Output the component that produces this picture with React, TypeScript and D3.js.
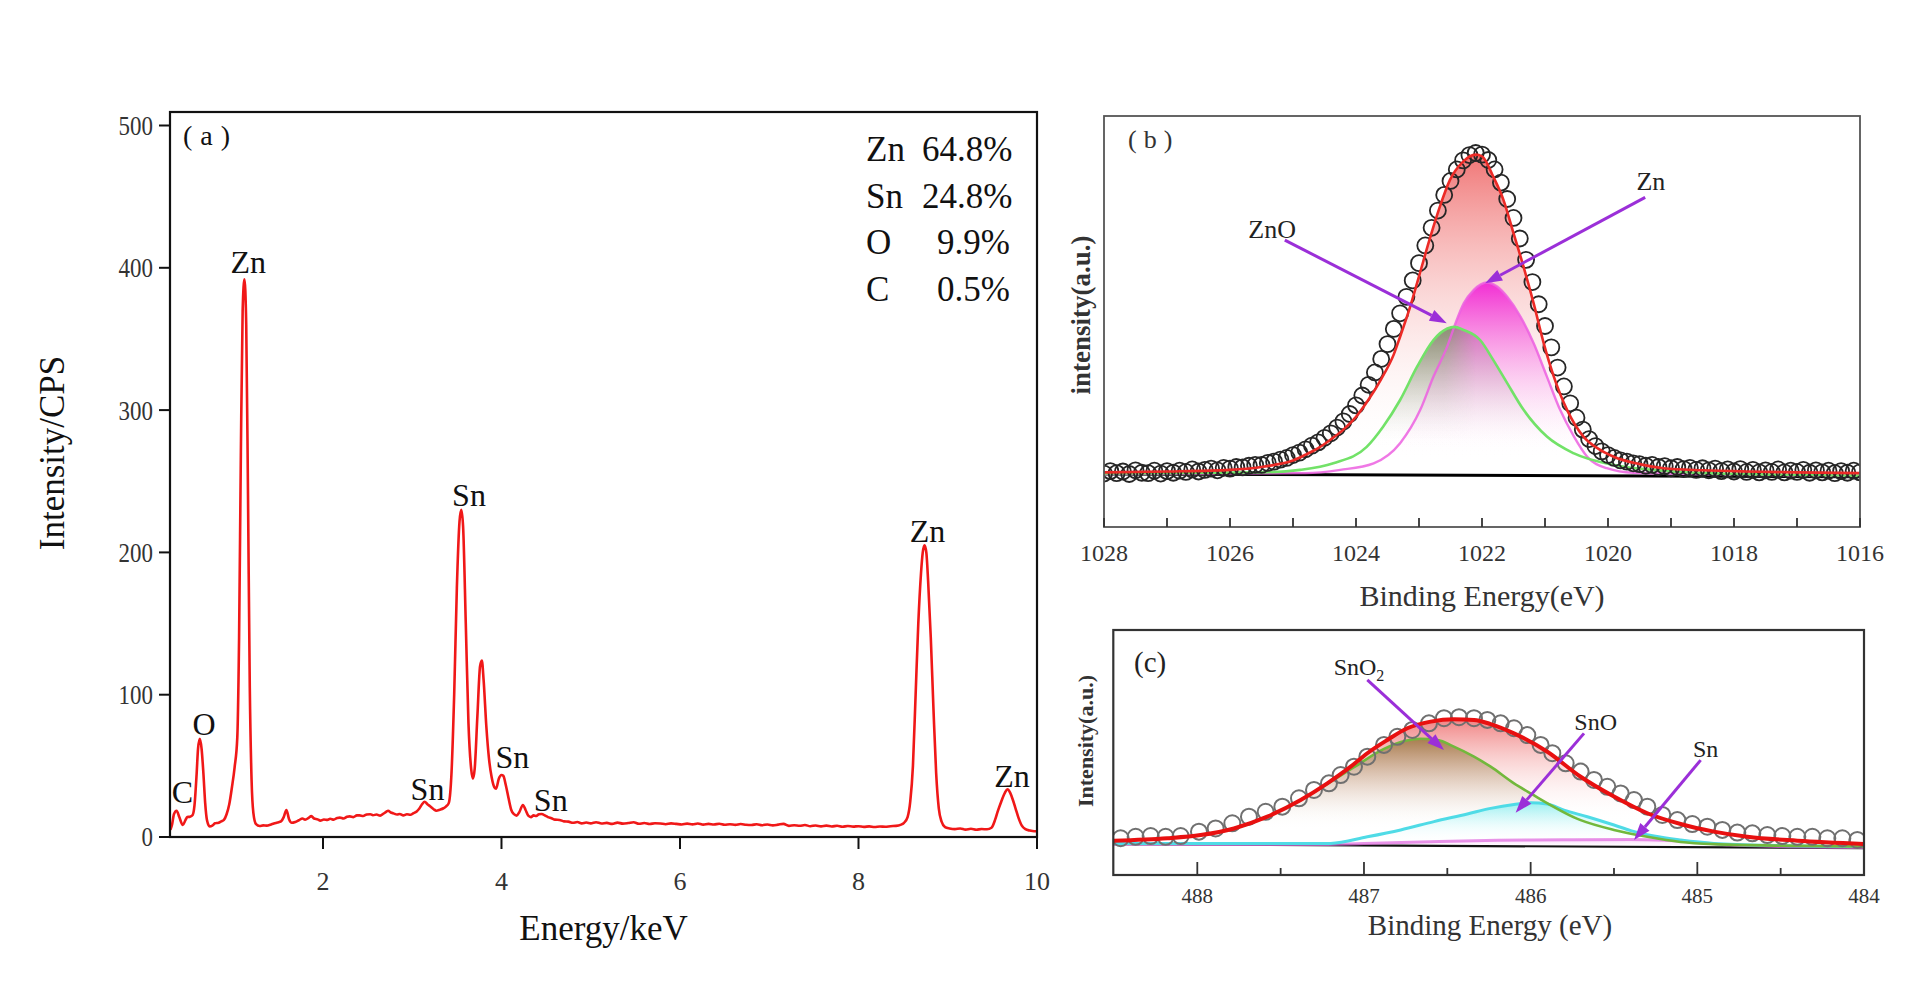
import React from "react";
import * as d3 from "d3";

const SERIF = '"Liberation Serif", "Times New Roman", serif';

// ---------------- Panel (a): EDS spectrum ----------------
const edsEnergy = [
  0.29, 0.31, 0.33, 0.36, 0.39, 0.43, 0.46, 0.48, 0.51, 0.54, 0.56, 0.585, 0.6, 0.62, 0.64, 0.66, 0.68, 0.7, 0.73, 0.76,
  0.79, 0.83, 0.86, 0.89, 0.92, 0.95, 0.98, 1.01, 1.04, 1.06, 1.08, 1.1, 1.12, 1.14, 1.16, 1.18, 1.2, 1.22, 1.25, 1.29,
  1.33, 1.37, 1.41, 1.45, 1.49, 1.53, 1.56, 1.59, 1.62, 1.65, 1.69, 1.73, 1.77, 1.8, 1.84, 1.87, 1.9, 1.94, 1.97, 2.01,
  2.05, 2.08, 2.12, 2.16, 2.19, 2.23, 2.27, 2.3, 2.34, 2.38, 2.41, 2.45, 2.49, 2.53, 2.56, 2.6, 2.64, 2.68, 2.71, 2.73,
  2.76, 2.79, 2.83, 2.86, 2.9, 2.94, 2.98, 3.01, 3.05, 3.08, 3.11, 3.14, 3.17, 3.2, 3.24, 3.27, 3.31, 3.35, 3.38, 3.41,
  3.44, 3.47, 3.5, 3.53, 3.55, 3.57, 3.6, 3.63, 3.66, 3.68, 3.7, 3.73, 3.76, 3.78, 3.8, 3.83, 3.86, 3.89, 3.92, 3.94,
  3.97, 4.0, 4.02, 4.05, 4.08, 4.11, 4.14, 4.17, 4.2, 4.24, 4.27, 4.3, 4.33, 4.36, 4.39, 4.42, 4.45, 4.49, 4.52, 4.56,
  4.6, 4.65, 4.7, 4.75, 4.8, 4.85, 4.9, 4.95, 5.0, 5.06, 5.12, 5.18, 5.24, 5.3, 5.36, 5.42, 5.48, 5.54, 5.6, 5.66,
  5.72, 5.78, 5.84, 5.9, 5.96, 6.02, 6.08, 6.14, 6.2, 6.26, 6.32, 6.38, 6.44, 6.5, 6.56, 6.62, 6.68, 6.74, 6.8, 6.86,
  6.92, 6.98, 7.04, 7.1, 7.16, 7.22, 7.28, 7.34, 7.4, 7.46, 7.52, 7.58, 7.64, 7.7, 7.76, 7.82, 7.88, 7.94, 8.0, 8.06,
  8.12, 8.18, 8.24, 8.3, 8.36, 8.42, 8.47, 8.51, 8.55, 8.58, 8.61, 8.64, 8.67, 8.7, 8.72, 8.74, 8.76, 8.78, 8.81, 8.84,
  8.87, 8.9, 8.93, 8.97, 9.02, 9.08, 9.14, 9.2, 9.26, 9.32, 9.38, 9.44, 9.49, 9.53, 9.56, 9.6, 9.64, 9.67, 9.7, 9.73,
  9.76, 9.79, 9.83, 9.87, 9.92, 9.97, 10.0,
];
const edsCounts = [
  5, 9, 16, 18.5, 14, 8.4, 12, 14, 14.3, 15.5, 22, 45, 62, 69, 62, 45, 24, 12, 7.5, 8,
  9.6, 10, 11, 12, 16, 23, 35, 49, 70, 140, 270, 370, 392, 360, 240, 105, 40, 17, 9, 7.7,
  8.2, 8.0, 8.6, 9.5, 10.2, 11, 14, 19, 12.5, 10, 10.6, 11.8, 13, 12.2, 13.5, 14.7, 13, 12.4, 11.5, 12.3,
  12, 12.8, 12.2, 13.4, 13.6, 13, 14.2, 14.5, 14, 15.2, 15.2, 14.8, 15.8, 16, 15.3, 15.8, 15, 16.5, 17.8, 18.5,
  17.2, 16.6, 15.8, 16.2, 15.2, 16, 15.6, 16.6, 18, 20, 23, 24.8, 23, 21.6, 19.5, 18.5, 19.2, 20.2, 21.5, 24,
  45, 100, 175, 222, 230, 218, 150, 80, 48, 41, 48, 85, 120, 124, 110, 78, 55, 42, 35, 34,
  41, 43.6, 43, 36, 27, 19, 16, 15, 17.5, 22.5, 19, 15, 14, 15.2, 14.8, 16, 16.2, 15, 14, 13.2,
  12.2, 12, 11, 10.8, 10, 10.5, 9.6, 10.2, 9.6, 10.4, 9.5, 9.9, 9.2, 10.1, 9.4, 9.8, 10.4, 9.3, 9.8, 9.1,
  9.7, 9.5, 9.0, 9.6, 9.2, 8.8, 9.4, 8.9, 9.5, 8.7, 9.2, 8.8, 9.3, 8.6, 9.0, 8.5, 9.1, 8.6, 8.4, 9.0,
  8.3, 8.8, 8.2, 8.7, 9.2, 7.8, 8.3, 7.9, 8.4, 7.6, 8.1, 7.5, 8.0, 7.4, 7.9, 7.2, 7.7, 7.3, 7.6, 7.1,
  7.5, 7.0, 7.4, 7.2, 7.6, 7.8, 8.5, 10, 14, 25, 50, 100, 150, 185, 200, 205, 200, 180, 140, 90,
  45, 20, 11, 7, 6, 5.5, 6, 5.2, 5.8, 5.1, 5.6, 5.4, 6.5, 12, 18, 25, 31, 33.6, 31, 26,
  20, 14, 8, 5.5, 4.5, 4, 4,
];
const edsYTicks = [0, 100, 200, 300, 400, 500];
const edsXTicks = [2, 4, 6, 8, 10];
const edsPeakNames = ["C", "O", "Zn", "Sn", "Sn", "Sn", "Sn", "Zn", "Zn"];
const edsPeakNameE = [0.426, 0.667, 1.163, 3.636, 3.171, 4.123, 4.552, 8.773, 9.72];
const edsPeakNameI = [23.7, 71.7, 396.6, 232.8, 26, 48.3, 18.5, 207.3, 35.4];
const compElements = ["Zn", "Sn", "O", "C"];
const compPercent = ["64.8%", "24.8%", "9.9%", "0.5%"];

// ---------------- Panel (b): Zn 2p XPS ----------------
const bTicks = [1028, 1027, 1026, 1025, 1024, 1023, 1022, 1021, 1020, 1019, 1018, 1017, 1016];
const bTickLabels = [1028, 1026, 1024, 1022, 1020, 1018, 1016];
const bDataE = [
  1028.0, 1027.9, 1027.8, 1027.7, 1027.6, 1027.5, 1027.4, 1027.3, 1027.2, 1027.1, 1027.0, 1026.9, 1026.8, 1026.7, 1026.6,
  1026.5, 1026.4, 1026.3, 1026.2, 1026.1, 1026.0, 1025.9, 1025.8, 1025.7, 1025.6, 1025.5, 1025.4, 1025.3, 1025.2, 1025.1,
  1025.0, 1024.9, 1024.8, 1024.7, 1024.6, 1024.5, 1024.4, 1024.3, 1024.2, 1024.1, 1024.0, 1023.9, 1023.8, 1023.7, 1023.6,
  1023.5, 1023.4, 1023.3, 1023.2, 1023.1, 1023.0, 1022.9, 1022.8, 1022.7, 1022.6, 1022.5, 1022.4, 1022.3, 1022.2, 1022.1,
  1022.0, 1021.9, 1021.8, 1021.7, 1021.6, 1021.5, 1021.4, 1021.3, 1021.2, 1021.1, 1021.0, 1020.9, 1020.8, 1020.7, 1020.6,
  1020.5, 1020.4, 1020.3, 1020.2, 1020.1, 1020.0, 1019.9, 1019.8, 1019.7, 1019.6, 1019.5, 1019.4, 1019.3, 1019.2, 1019.1,
  1019.0, 1018.9, 1018.8, 1018.7, 1018.6, 1018.5, 1018.4, 1018.3, 1018.2, 1018.1, 1018.0, 1017.9, 1017.8, 1017.7, 1017.6,
  1017.5, 1017.4, 1017.3, 1017.2, 1017.1, 1017.0, 1016.9, 1016.8, 1016.7, 1016.6, 1016.5, 1016.4, 1016.3, 1016.2, 1016.1,
  1016.0,
];
const bDataI = [
  13.0, 13.6, 13.1, 13.5, 12.9, 13.8, 13.2, 13.1, 13.7, 13.0, 13.6, 13.2, 13.7, 13.4, 14.0,
  13.5, 13.9, 14.2, 13.8, 14.4, 14.2, 14.6, 14.5, 14.9, 15.1, 15.1, 15.6, 15.9, 16.4, 16.8,
  17.5, 18.1, 18.9, 19.8, 20.6, 21.7, 22.8, 24.2, 25.7, 27.5, 29.6, 32.0, 34.6, 37.6, 40.9,
  44.5, 48.2, 52.0, 56.0, 60.0, 64.2, 68.5, 72.8, 77.0, 80.8, 84.2, 87.0, 89.2, 90.5, 91.0,
  90.6, 89.3, 87.0, 83.8, 79.8, 75.2, 70.2, 65.0, 59.6, 54.2, 48.9, 43.7, 38.8, 34.2, 30.1,
  26.6, 23.7, 21.4, 19.7, 18.4, 17.5, 16.8, 16.2, 15.9, 15.5, 15.3, 14.9, 15.1, 14.6, 14.8,
  14.3, 14.6, 14.1, 14.4, 13.9, 14.3, 13.8, 14.2, 13.6, 14.0, 13.5, 14.1, 13.4, 13.9, 13.3,
  13.8, 13.4, 14.0, 13.3, 13.7, 13.4, 13.9, 13.2, 13.8, 13.3, 13.7, 13.1, 13.6, 13.2, 13.7,
  13.3,
];
const bEnvE = [1028, 1027, 1026, 1025.5, 1025.3, 1025.0, 1024.8, 1024.6, 1024.4, 1024.2, 1024.0, 1023.8, 1023.6, 1023.4, 1023.3, 1023.14, 1023.0, 1022.82, 1022.67, 1022.51, 1022.3, 1022.1, 1022.0, 1021.82, 1021.66, 1021.5, 1021.34, 1021.18, 1021.02, 1020.86, 1020.65, 1020.39, 1020.15, 1019.91, 1019.5, 1019.12, 1018.5, 1017.8, 1017.0, 1016.0];
const bEnvI = [13.3, 13.5, 13.9, 14.6, 15.1, 16.2, 17.6, 19.2, 21.3, 23.7, 26.8, 31.0, 36.0, 42.0, 46.3, 53.6, 61.0, 70.6, 77.9, 84.4, 88.9, 90.6, 90.2, 85.2, 79.6, 71.5, 63.3, 54.4, 44.7, 36.6, 28.5, 22.0, 19.0, 17.1, 15.3, 14.3, 13.8, 13.5, 13.3, 13.1];
const bZnOE = [1028, 1025.5, 1024.89, 1024.36, 1023.83, 1023.57, 1023.3, 1023.03, 1022.77, 1022.55, 1022.44, 1022.3, 1022.03, 1021.82, 1021.6, 1021.34, 1020.97, 1020.54, 1019.91, 1019.28, 1018.5, 1016];
const bZnOI = [13.0, 13.3, 13.9, 15.5, 19.5, 24.4, 30.9, 39.0, 45.5, 48.3, 48.7, 48.0, 45.5, 40.6, 35.0, 28.5, 22.0, 17.9, 15.1, 13.9, 13.1, 12.5];
const bZnE = [1028, 1024.8, 1024.25, 1023.72, 1023.3, 1022.98, 1022.77, 1022.55, 1022.42, 1022.29, 1022.13, 1021.92, 1021.76, 1021.6, 1021.39, 1021.18, 1020.97, 1020.76, 1020.54, 1020.33, 1020.02, 1019.6, 1016];
const bZnI = [12.9, 13.1, 13.9, 15.5, 20.4, 28.5, 36.6, 44.0, 49.6, 54.4, 57.7, 59.5, 58.5, 56.0, 51.2, 44.7, 36.6, 28.5, 22.0, 17.1, 14.3, 13.2, 12.4];
const bBaseE = [1028, 1016];
const bBaseI = [12.9, 12.2];
const bNotes = ["ZnO", "Zn"];
const bNoteE = [1025.33, 1019.32];
const bNoteI = [70.3, 82];
const bArrowFromE = [1025.13, 1019.41];
const bArrowFromI = [69.8, 80.2];
const bArrowToE = [1022.56, 1021.95];
const bArrowToI = [49.6, 59.3];

// ---------------- Panel (c): Sn 3d XPS ----------------
const cTicks = [488, 487.5, 487, 486.5, 486, 485.5, 485, 484.5, 484];
const cTickLabels = [488, 487, 486, 485, 484];
const cDataE = [
  488.46, 488.37, 488.28, 488.19, 488.1, 487.99, 487.89, 487.79, 487.69, 487.59, 487.49, 487.39, 487.3, 487.21, 487.14,
  487.06, 486.98, 486.88, 486.8, 486.71, 486.61, 486.52, 486.43, 486.34, 486.26, 486.18, 486.1, 486.02, 485.94, 485.87,
  485.79, 485.7, 485.62, 485.54, 485.46, 485.38, 485.3, 485.21, 485.12, 485.03, 484.94, 484.85, 484.76, 484.67, 484.58,
  484.49, 484.4, 484.31, 484.22, 484.13, 484.04,
];
const cDataI = [
  15.0, 15.6, 15.9, 15.6, 15.9, 17.7, 19.0, 21.1, 23.8, 25.8, 27.9, 31.3, 34.7, 37.4, 40.8,
  44.2, 48.3, 53.1, 56.4, 59.2, 61.9, 64.0, 64.4, 64.0, 63.3, 61.9, 59.9, 57.1, 53.1, 49.7,
  45.6, 42.2, 38.8, 36.0, 33.3, 30.6, 27.9, 24.5, 22.4, 20.8, 19.7, 18.4, 17.3, 17.0, 16.3,
  15.9, 15.6, 15.6, 15.0, 15.0, 14.3,
];
const cEnvE = [488.5, 488.18, 487.98, 487.78, 487.58, 487.38, 487.22, 487.08, 486.98, 486.86, 486.74, 486.6, 486.46, 486.34, 486.24, 486.1, 485.9, 485.7, 485.5, 485.3, 485.1, 484.9, 484.7, 484.4, 484.0];
const cEnvI = [14.0, 15.0, 16.3, 19.0, 23.8, 30.6, 37.4, 44.2, 49.7, 55.1, 59.9, 62.6, 63.6, 63.3, 61.6, 57.8, 50.3, 40.1, 32.0, 25.2, 20.8, 17.7, 15.6, 14.0, 12.7];
const cSnO2E = [488.5, 488.18, 487.98, 487.78, 487.58, 487.38, 487.22, 487.06, 486.88, 486.75, 486.66, 486.55, 486.48, 486.34, 486.24, 486.1, 486.0, 485.7, 485.5, 485.3, 485.1, 484.9, 484.5, 484.0];
const cSnO2I = [14.0, 15.0, 16.3, 19.0, 23.8, 30.6, 37.2, 44.0, 51.5, 54.8, 55.6, 55.0, 53.0, 48.3, 44.2, 37.4, 33.3, 22.4, 18.4, 15.6, 13.5, 12.6, 12.0, 11.6];
const cSnOE = [488.5, 487.2, 486.98, 486.78, 486.58, 486.38, 486.24, 486.1, 486.0, 485.9, 485.8, 485.66, 485.5, 485.4, 485.26, 485.1, 484.9, 484.5, 484.0];
const cSnOI = [12.9, 12.9, 15.6, 18.4, 21.8, 24.9, 27.2, 28.8, 29.5, 29.0, 26.5, 23.8, 20.4, 18.1, 15.9, 14.3, 12.9, 12.0, 11.6];
const cSnE = [488.5, 487.3, 487.0, 486.6, 486.2, 485.8, 485.4, 485.2, 485.0, 484.8, 484.5, 484.0];
const cSnI = [12.6, 12.4, 12.9, 13.6, 14.2, 14.4, 14.5, 14.2, 13.3, 12.3, 11.6, 11.2];
const cBaseE = [488.5, 484.0];
const cBaseI = [12.6, 11.0];
const cNotes = ["SnO", "SnO", "Sn"];
const cNoteSub = ["2", "", ""];
const cNoteE = [487.03, 485.61, 484.95];
const cNoteI = [81.6, 59.2, 48.3];
const cArrowFromE = [486.98, 485.68, 484.98];
const cArrowFromI = [79.6, 57.8, 46.9];
const cArrowToE = [486.52, 486.09, 485.38];
const cArrowToI = [51, 25.4, 14.3];

const ARROW = "#9b2fd8";

type P = [number, number];

function Arrow({ x1, y1, x2, y2 }: { x1: number; y1: number; x2: number; y2: number }) {
  const ang = Math.atan2(y2 - y1, x2 - x1);
  const len = 17;
  const hw = 6;
  const bx = x2 - len * Math.cos(ang);
  const by = y2 - len * Math.sin(ang);
  const px = -Math.sin(ang) * hw;
  const py = Math.cos(ang) * hw;
  return (
    <g>
      <line x1={x1} y1={y1} x2={bx} y2={by} stroke={ARROW} strokeWidth={3} />
      <path d={`M${x2},${y2}L${bx + px},${by + py}L${bx - px},${by - py}Z`} fill={ARROW} />
    </g>
  );
}

function Grad({ id, y1, y2, color, op }: { id: string; y1: number; y2: number; color: string; op: number }) {
  return (
    <linearGradient id={id} gradientUnits="userSpaceOnUse" x1={0} x2={0} y1={y1} y2={y2}>
      <stop offset="0%" stopColor={color} stopOpacity={op} />
      <stop offset="100%" stopColor="#ffffff" stopOpacity={0} />
    </linearGradient>
  );
}

function PanelLabel({ x, y, letter, size, fill, gap }: { x: number; y: number; letter: string; size: number; fill: string; gap: number }) {
  return (
    <text x={x} y={y} fontSize={size} fill={fill} fontFamily={SERIF}>
      (<tspan dx={gap}>{letter}</tspan><tspan dx={gap}>)</tspan>
    </text>
  );
}

function PanelA() {
  const x = d3.scaleLinear().domain([0.286, 10]).range([170, 1037]);
  const y = d3.scaleLinear().domain([0, 500]).range([837, 125.5]);
  const pts = d3.zip(edsEnergy, edsCounts) as P[];
  const line = d3.line<P>().x((d) => x(d[0])).y((d) => y(d[1])).curve(d3.curveMonotoneX);
  return (
    <g fontFamily={SERIF} fill="#111">
      <path d={line(pts) || ""} fill="none" stroke="#f01818" strokeWidth={2.6} strokeLinejoin="round" />
      <rect x={170} y={112} width={867} height={725} fill="none" stroke="#111" strokeWidth={2.2} />
      {edsYTicks.map((t) => (
        <g key={"y" + t}>
          <line x1={159} x2={170} y1={y(t)} y2={y(t)} stroke="#111" strokeWidth={2} />
          <text transform={`translate(153,${y(t)}) scale(0.85,1)`} dy="0.35em" textAnchor="end" fontSize={27} fill="#333">{t}</text>
        </g>
      ))}
      {edsXTicks.map((t) => (
        <g key={"x" + t}>
          <line x1={x(t)} x2={x(t)} y1={837} y2={849} stroke="#111" strokeWidth={2} />
          <text x={x(t)} y={890} textAnchor="middle" fontSize={26} fill="#333">{t}</text>
        </g>
      ))}
      <text x={603.5} y={940} textAnchor="middle" fontSize={35}>Energy/keV</text>
      <text transform="translate(64,453) rotate(-90)" textAnchor="middle" fontSize={35}>Intensity/CPS</text>
      <PanelLabel x={183} y={145} letter="a" size={28} fill="#111" gap={8} />
      {edsPeakNames.map((n, i) => (
        <text key={"p" + i} x={x(edsPeakNameE[i])} y={y(edsPeakNameI[i])} textAnchor="middle" fontSize={32}>{n}</text>
      ))}
      {compElements.map((el, i) => (
        <g key={"c" + i} fontSize={35}>
          <text x={866} y={161 + i * 46.5}>{el}</text>
          <text x={compPercent[i].length > 4 ? 922 : 937} y={161 + i * 46.5}>{compPercent[i]}</text>
        </g>
      ))}
    </g>
  );
}

function PanelB() {
  const x = d3.scaleLinear().domain([1028, 1016]).range([1104, 1860]);
  const y = d3.scaleLinear().domain([0, 100]).range([527, 116]);
  const base = d3.scaleLinear().domain(bBaseE).range(bBaseI);
  const line = d3.line<P>().x((d) => x(d[0])).y((d) => y(d[1])).curve(d3.curveMonotoneX);
  const area = d3.area<P>().x((d) => x(d[0])).y0((d) => y(base(d[0]))).y1((d) => y(d[1])).curve(d3.curveMonotoneX);
  const env = d3.zip(bEnvE, bEnvI) as P[];
  const zno = d3.zip(bZnOE, bZnOI) as P[];
  const zn = d3.zip(bZnE, bZnI) as P[];
  const data = d3.zip(bDataE, bDataI) as P[];
  const baseLine = d3.zip(bBaseE, bBaseI) as P[];
  return (
    <g fontFamily={SERIF} fill="#111">
      <defs>
        <clipPath id="clipB"><rect x={1104} y={116} width={756} height={411} /></clipPath>
        <linearGradient id="gMaskB" gradientUnits="userSpaceOnUse" x1={x(1022.6)} x2={x(1022.1)} y1={0} y2={0}>
          <stop offset="0%" stopColor="#fff" />
          <stop offset="100%" stopColor="#000" />
        </linearGradient>
        <mask id="maskBLeft" maskUnits="userSpaceOnUse" x={1104} y={116} width={756} height={411}>
          <rect x={1104} y={116} width={756} height={411} fill="url(#gMaskB)" />
        </mask>
        <Grad id="gEnvB" y1={y(92)} y2={y(17)} color="#ee6464" op={0.92} />
        <Grad id="gZnOB" y1={y(49)} y2={y(20)} color="#8c8c74" op={1} />
        <Grad id="gZnB" y1={y(60)} y2={y(16)} color="#f22ad4" op={1} />
      </defs>
      <g clipPath="url(#clipB)">
        <path d={area(env) || ""} fill="url(#gEnvB)" />
        <path d={area(zno) || ""} fill="url(#gZnOB)" />
        <path d={area(zn) || ""} fill="url(#gZnB)" />
        <g mask="url(#maskBLeft)">
          <path d={area(zno) || ""} fill="url(#gZnOB)" />
        </g>
        <path d={line(baseLine) || ""} fill="none" stroke="#000" strokeWidth={3} />
        <path d={line(zn) || ""} fill="none" stroke="#ec60e0" strokeWidth={2.4} opacity={0.85} />
        <path d={line(zno) || ""} fill="none" stroke="#72e268" strokeWidth={2.6} />
        {data.map((d, i) => (
          <circle key={i} cx={x(d[0])} cy={y(d[1])} r={8} fill="none" stroke="#262626" strokeWidth={1.8} />
        ))}
        <path d={line(env) || ""} fill="none" stroke="#ec2a26" strokeWidth={2.6} />
      </g>
      <rect x={1104} y={116} width={756} height={411} fill="none" stroke="#555" strokeWidth={1.8} />
      {bTicks.map((t) => (
        <line key={"t" + t} x1={x(t)} x2={x(t)} y1={527} y2={518} stroke="#333" strokeWidth={1.8} />
      ))}
      {bTickLabels.map((t) => (
        <text key={"l" + t} x={x(t)} y={561} textAnchor="middle" fontSize={24} fill="#333">{t}</text>
      ))}
      <text x={1482} y={606} textAnchor="middle" fontSize={30} fill="#333">Binding Energy(eV)</text>
      <text transform="translate(1090,315) rotate(-90)" textAnchor="middle" fontSize={27} fontWeight="bold" fill="#333">intensity(a.u.)</text>
      <PanelLabel x={1128} y={148} letter="b" size={26} fill="#333" gap={7} />
      {bNotes.map((n, i) => (
        <text key={"n" + i} x={x(bNoteE[i])} y={y(bNoteI[i])} textAnchor="middle" fontSize={26} fill="#222">{n}</text>
      ))}
      {bNotes.map((n, i) => (
        <Arrow key={"a" + i} x1={x(bArrowFromE[i])} y1={y(bArrowFromI[i])} x2={x(bArrowToE[i])} y2={y(bArrowToI[i])} />
      ))}
    </g>
  );
}

function PanelC() {
  const x = d3.scaleLinear().domain([488.504, 484]).range([1113.3, 1864]);
  const y = d3.scaleLinear().domain([0, 100]).range([875, 630]);
  const base = d3.scaleLinear().domain(cBaseE).range(cBaseI);
  const line = d3.line<P>().x((d) => x(d[0])).y((d) => y(d[1])).curve(d3.curveMonotoneX);
  const area = d3.area<P>().x((d) => x(d[0])).y0((d) => y(base(d[0]))).y1((d) => y(d[1])).curve(d3.curveMonotoneX);
  const env = d3.zip(cEnvE, cEnvI) as P[];
  const sno2 = d3.zip(cSnO2E, cSnO2I) as P[];
  const sno = d3.zip(cSnOE, cSnOI) as P[];
  const sn = d3.zip(cSnE, cSnI) as P[];
  const data = d3.zip(cDataE, cDataI) as P[];
  const baseLine = d3.zip(cBaseE, cBaseI) as P[];
  return (
    <g fontFamily={SERIF} fill="#111">
      <defs>
        <clipPath id="clipC"><rect x={1113.3} y={630} width={750.7} height={245} /></clipPath>
        <Grad id="gEnvC" y1={y(64)} y2={y(22)} color="#ee7070" op={0.88} />
        <Grad id="gSnO2C" y1={y(56)} y2={y(18)} color="#a27a48" op={0.95} />
        <Grad id="gSnOC" y1={y(30)} y2={y(13)} color="#8ef0f2" op={0.95} />
        <Grad id="gSnC" y1={y(15)} y2={y(11)} color="#f0a0f0" op={0.6} />
      </defs>
      <g clipPath="url(#clipC)">
        <path d={area(env) || ""} fill="url(#gEnvC)" />
        <path d={area(sno2) || ""} fill="url(#gSnO2C)" />
        <path d={area(sno) || ""} fill="url(#gSnOC)" />
        <path d={area(sn) || ""} fill="url(#gSnC)" />
        <path d={line(baseLine) || ""} fill="none" stroke="#111" strokeWidth={2.2} />
        <path d={line(sn) || ""} fill="none" stroke="#e070e0" strokeWidth={3} opacity={0.75} />
        <path d={line(sno) || ""} fill="none" stroke="#4fdbe6" strokeWidth={3} />
        <path d={line(sno2) || ""} fill="none" stroke="#72b83c" strokeWidth={2.6} />
        {data.map((d, i) => (
          <circle key={i} cx={x(d[0])} cy={y(d[1])} r={8} fill="none" stroke="#707070" strokeWidth={2} />
        ))}
        <path d={line(env) || ""} fill="none" stroke="#e81010" strokeWidth={4} />
      </g>
      <rect x={1113.3} y={630} width={750.7} height={245} fill="none" stroke="#333" strokeWidth={2.2} />
      {cTicks.map((t) => (
        <line key={"t" + t} x1={x(t)} x2={x(t)} y1={875} y2={Number.isInteger(t) ? 862 : 868} stroke="#333" strokeWidth={1.8} />
      ))}
      {cTickLabels.map((t) => (
        <text key={"l" + t} x={x(t)} y={903} textAnchor="middle" fontSize={21} fill="#333">{t}</text>
      ))}
      <text x={1490} y={935} textAnchor="middle" fontSize={29} fill="#333">Binding Energy (eV)</text>
      <text transform="translate(1093,741) rotate(-90)" textAnchor="middle" fontSize={22} fontWeight="bold" fill="#333">Intensity(a.u.)</text>
      <text x={1134} y={672} fontSize={29} fill="#222">(c)</text>
      {cNotes.map((n, i) => (
        <text key={"n" + i} x={x(cNoteE[i])} y={y(cNoteI[i])} textAnchor="middle" fontSize={24} fill="#222">
          {n}
          {cNoteSub[i] ? <tspan fontSize={16} dy={6}>{cNoteSub[i]}</tspan> : null}
        </text>
      ))}
      {cNotes.map((n, i) => (
        <Arrow key={"a" + i} x1={x(cArrowFromE[i])} y1={y(cArrowFromI[i])} x2={x(cArrowToE[i])} y2={y(cArrowToI[i])} />
      ))}
    </g>
  );
}

export default function App() {
  return (
    <svg width={1920} height={1000} style={{ position: "absolute", left: 0, top: 0, background: "#fff" }}>
      <rect x={0} y={0} width={1920} height={1000} fill="#fff" />
      <PanelA />
      <PanelB />
      <PanelC />
    </svg>
  );
}
